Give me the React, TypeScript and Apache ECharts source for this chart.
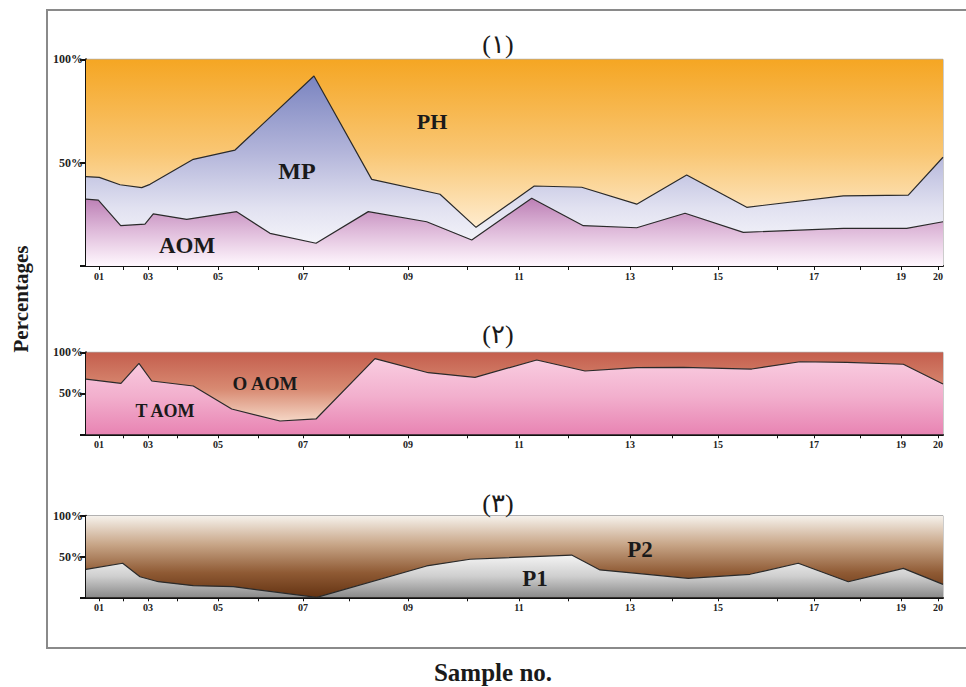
import React, { useEffect, useRef } from "react";
import * as echarts from "echarts";

// Sample tick positions along the section (relative position 0-100)
const sampleNames = ["01","02","03","04","05","06","07","08","09","10","11","12","13","14","15","16","17","18","19","20"];
const samplePos = [1.52,4.32,7.23,10.62,15.4,20.07,25.32,30.69,37.57,44.46,50.53,56.24,63.48,68.38,73.75,80.63,84.95,90.32,95.1,99.42];
const labeledSamples = ["01","03","05","07","09","11","13","15","17","19","20"];

// Panel 1: cumulative boundaries (%)
const mpTopX = [0,1.55,3.97,6.5,7.47,12.52,17.39,26.6,33.34,41.31,45.51,52.31,57.84,64.26,70.09,77.1,88.37,95.95,100];
const mpTopY = [43.2,42.9,39.3,37.9,39.5,51.6,56.1,91.9,41.9,34.7,18.7,38.7,38.1,29.9,44.0,28.4,33.9,34.3,52.6];
const aomTopX = [0,1.44,4.05,6.88,7.85,11.75,17.58,21.47,26.84,32.94,39.75,45.01,52.01,58.03,64.26,69.9,76.7,88.37,95.76,100];
const aomTopY = [32.4,31.9,19.5,20.3,25.2,22.6,26.3,15.8,11.0,26.3,21.4,12.6,32.8,19.5,18.5,25.5,16.3,18.2,18.2,21.4];

// Panel 2: T AOM upper boundary (%)
const taomX = [0,4.08,6.18,7.67,12.52,17.0,22.64,26.84,33.72,39.94,45.39,52.59,58.23,64.26,69.7,77.68,83.31,88.76,95.37,100];
const taomY = [67.4,62.2,86.6,65.0,58.9,30.9,16.2,18.7,92.2,75.1,69.5,90.6,77.2,81.2,81.7,79.6,88.5,87.8,85.4,61.3];

// Panel 3: P1 upper boundary (%)
const p1X = [0,4.28,6.3,8.44,12.52,17.19,26.92,39.75,44.81,56.67,59.98,64.26,70.28,77.48,83.11,88.95,95.37,100];
const p1Y = [34.3,41.7,25.2,19.1,14.2,13.0,0,38.4,46.6,51.8,33.5,29.4,23.3,28.2,41.7,19.1,35.5,15.9];

const fullX = [0, 100];
const fullY = [100, 100];

const pairs = (xs: number[], ys: number[]) => xs.map((x, i) => [x, ys[i]]);

const SERIF = "'Liberation Serif', 'DejaVu Serif', serif";
const ARABIC = "'Liberation Serif', 'DejaVu Sans', 'Noto Sans', serif";

const grad = (stops: [number, string][]) =>
  new echarts.graphic.LinearGradient(0, 0, 0, 1, stops.map(([offset, color]) => ({ offset, color })));

export default function App() {
  const ref = useRef<HTMLDivElement>(null);

  useEffect(() => {
    if (!ref.current) return;
    const chart = echarts.init(ref.current, null, { renderer: "svg" });

    const grids = [
      { left: 86, top: 59.3, width: 857, height: 206.7 },
      { left: 86, top: 352.3, width: 857, height: 82 },
      { left: 86, top: 515.7, width: 857, height: 81.6 },
    ].map((g) => ({ ...g, show: true, borderColor: "#9a9a9a", borderWidth: 1, backgroundColor: "transparent" }));

    const labelPos = labeledSamples.map((n) => samplePos[sampleNames.indexOf(n)]);
    const fmtX = (v: number) => {
      let best = 0;
      let d = 1e9;
      samplePos.forEach((p, i) => {
        if (Math.abs(p - v) < d) { d = Math.abs(p - v); best = i; }
      });
      return sampleNames[best];
    };

    const xAxes = [0, 1, 2].map((i) => ({
      type: "value",
      gridIndex: i,
      min: 0,
      max: 100,
      axisLine: { show: true, onZero: false, lineStyle: { color: "#111", width: 2 } },
      axisTick: { show: true, customValues: samplePos, length: 4, lineStyle: { color: "#111", width: 1 } },
      axisLabel: {
        customValues: labelPos,
        formatter: fmtX,
        fontSize: 10,
        fontWeight: "bold",
        fontFamily: SERIF,
        color: "#222",
        margin: 5,
      },
      splitLine: { show: false },
    }));

    const yAxes = [0, 1, 2].map((i) => ({
      type: "value",
      gridIndex: i,
      min: 0,
      max: 100,
      interval: 50,
      axisLine: { show: true, lineStyle: { color: "#111", width: 2 } },
      axisTick: { show: true, length: 6, lineStyle: { color: "#111", width: 2 } },
      axisLabel: {
        formatter: (v: number) => (v === 0 ? "" : v + "%"),
        fontSize: 12,
        fontWeight: "bold",
        fontFamily: SERIF,
        color: "#222",
        margin: 3,
      },
      splitLine: { show: false },
    }));

    const area = (name: string, idx: number, xs: number[], ys: number[], fill: any, lineW = 1.2) => ({
      name,
      type: "line",
      xAxisIndex: idx,
      yAxisIndex: idx,
      data: pairs(xs, ys),
      showSymbol: false,
      symbol: "none",
      silent: true,
      lineStyle: { color: "#2a2a2a", width: lineW },
      areaStyle: { color: fill, opacity: 1 },
    });

    const series = [
      area("PH", 0, fullX, fullY, grad([[0, "#F5A623"], [0.45, "#F9C673"], [0.85, "#FFF0D8"], [1, "#FFFAF2"]]), 0),
      area("MP", 0, mpTopX, mpTopY, grad([[0, "#7A84C0"], [0.4, "#B3B5DA"], [0.7, "#E2E2F1"], [1, "#FFFFFF"]])),
      area("AOM", 0, aomTopX, aomTopY, grad([[0, "#BC7FB5"], [0.45, "#DDB7D8"], [1, "#FFF8FE"]])),
      area("O AOM", 1, fullX, fullY, grad([[0, "#C45E4D"], [0.45, "#D88A72"], [0.85, "#F6D9C8"], [1, "#FBEDE4"]]), 0),
      area("T AOM", 1, taomX, taomY, grad([[0, "#F9CDE1"], [0.5, "#F2AFCD"], [1, "#E884B3"]])),
      area("P2", 2, fullX, fullY, grad([[0, "#F6F2EC"], [0.35, "#C8A688"], [0.7, "#8F5A34"], [1, "#643312"]]), 0),
      area("P1", 2, p1X, p1Y, grad([[0, "#F4F4F4"], [0.5, "#CFCFCF"], [1, "#8A8A8A"]])),
    ];

    const txt = (text: string, x: number, y: number, size: number, family = SERIF, weight: any = "bold") => ({
      type: "text",
      x,
      y,
      z: 100,
      silent: true,
      style: {
        text,
        fontSize: size,
        fontWeight: weight,
        fontFamily: family,
        fill: "#1a1a1a",
        align: "center",
        verticalAlign: "middle",
      },
    });

    const graphic = [
      {
        type: "rect",
        silent: true,
        shape: { x: 47, y: 10, width: 940, height: 638 },
        style: { fill: "none", stroke: "#8a8a8a", lineWidth: 2 },
        z: -1,
      },
      txt("(\u06F1)", 498, 44, 26, ARABIC, "normal"),
      txt("(\u06F2)", 498, 334, 26, ARABIC, "normal"),
      txt("(\u06F3)", 498, 503, 26, ARABIC, "normal"),
      txt("PH", 432, 121, 22),
      txt("MP", 297, 171, 24),
      txt("AOM", 187, 245, 23),
      txt("O AOM", 265, 383, 19),
      txt("T AOM", 165, 411, 18),
      txt("P2", 640, 549, 23),
      txt("P1", 535, 578, 23),
      txt("Sample no.", 493, 672, 25),
      {
        type: "text",
        x: 21,
        y: 299,
        z: 100,
        rotation: Math.PI / 2,
        silent: true,
        style: {
          text: "Percentages",
          fontSize: 21,
          fontWeight: "bold",
          fontFamily: SERIF,
          fill: "#1a1a1a",
          align: "center",
          verticalAlign: "middle",
        },
      },
    ];

    chart.setOption({
      animation: false,
      backgroundColor: "#ffffff",
      grid: grids,
      xAxis: xAxes,
      yAxis: yAxes,
      series,
      graphic,
    });

    return () => chart.dispose();
  }, []);

  return (
    <div
      ref={ref}
      style={{ position: "fixed", left: 0, top: 0, width: 966, height: 687, background: "#fff" }}
    />
  );
}
